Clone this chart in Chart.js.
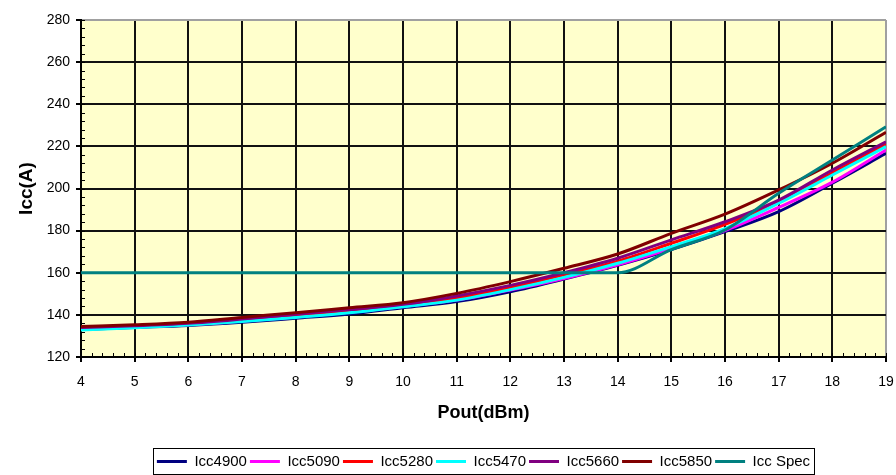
<!DOCTYPE html>
<html>
<head>
<meta charset="utf-8">
<script src="https://cdn.jsdelivr.net/npm/chart.js@4.4.1/dist/chart.umd.min.js"></script>
<style>
  html, body { margin: 0; padding: 0; background: #fff; }
  #wrap { width: 896px; height: 475px; }
</style>
</head>
<body>
<div id="wrap"><canvas id="chart" width="896" height="475"></canvas></div>
<script>
// values (Pout in dBm, Icc in A)
const poutDbm = [4, 5, 6, 7, 8, 9, 10, 11, 12, 13, 14, 15, 16, 17, 18, 19];

const icc4900 = [133.0, 134.0, 135.0, 136.5, 138.4, 140.4, 143.4, 146.3, 151.0, 157.0, 163.5, 171.0, 179.5, 189.0, 202.5, 216.7];
const icc5090 = [133.2, 134.2, 135.3, 137.0, 139.0, 141.2, 144.0, 147.0, 151.8, 157.3, 163.8, 171.5, 180.0, 191.0, 203.0, 218.3];
const icc5280 = [133.6, 134.6, 135.6, 137.6, 139.8, 142.0, 144.5, 148.0, 153.0, 159.0, 165.5, 174.0, 183.0, 193.8, 207.5, 221.0];
const icc5470 = [132.8, 133.9, 135.2, 136.8, 138.8, 141.0, 143.9, 147.0, 152.0, 157.8, 164.5, 172.4, 181.0, 193.0, 206.4, 219.9];
const icc5660 = [134.0, 134.8, 136.0, 138.0, 140.3, 142.5, 145.0, 149.0, 154.0, 160.0, 166.9, 175.6, 184.2, 194.5, 208.8, 222.2];
const icc5850 = [134.5, 135.3, 136.5, 138.8, 141.0, 143.4, 145.8, 150.2, 155.8, 162.1, 168.9, 178.7, 187.8, 199.3, 212.0, 226.7];
const iccSpec = [160, 160, 160, 160, 160, 160, 160, 160, 160, 160, 160, 171.0, 180.3, 197.7, 213.5, 229.3];

const seriesNames = ['Icc4900', 'Icc5090', 'Icc5280', 'Icc5470', 'Icc5660', 'Icc5850', 'Icc Spec'];
const seriesValues = [icc4900, icc5090, icc5280, icc5470, icc5660, icc5850, iccSpec];
const seriesColors = ['#000080', '#FF00FF', '#FF0000', '#00FFFF', '#800080', '#800000', '#008080'];

const yTicks = { min: 120, max: 280, step: 20 };
const xTicks = { min: 4, max: 19, step: 1 };

const FONT = "'Liberation Sans', Arial, sans-serif";

const datasets = seriesNames.map((name, i) => ({
    label: name,
    data: poutDbm.map((x, j) => ({ x: x, y: seriesValues[i][j] })),
    borderColor: seriesColors[i],
    backgroundColor: seriesColors[i],
    borderWidth: 3,
    pointRadius: 0,
    cubicInterpolationMode: 'monotone',
    order: seriesNames.length - i  // later series drawn on top, like the original
}));

// pale yellow plot area
const plotBackground = {
    id: 'plotBackground',
    beforeDraw(chart) {
        const { ctx, chartArea: a } = chart;
        ctx.save();
        ctx.fillStyle = '#FFFFCC';
        ctx.fillRect(a.left, a.top, a.right - a.left, a.bottom - a.top);
        ctx.restore();
    }
};

// small minor ticks along the two axes
const minorTicks = {
    id: 'minorTicks',
    beforeDatasetsDraw(chart) {
        const { ctx, chartArea: a, scales } = chart;
        ctx.save();
        ctx.strokeStyle = '#000';
        ctx.lineWidth = 1;
        ctx.beginPath();
        for (let v = yTicks.min; v <= yTicks.max; v += 4) {
            const y = Math.round(scales.y.getPixelForValue(v)) + 0.5;
            ctx.moveTo(a.left, y);
            ctx.lineTo(a.left + 4, y);
        }
        for (let k = 0; k <= (xTicks.max - xTicks.min) * 5; k++) {
            const x = Math.round(scales.x.getPixelForValue(xTicks.min + k * 0.2)) + 0.5;
            ctx.moveTo(x, a.bottom);
            ctx.lineTo(x, a.bottom - 4);
        }
        ctx.stroke();
        ctx.restore();
    }
};

// frame around the legend row
const legendFrame = {
    id: 'legendFrame',
    afterDraw(chart) {
        const boxes = chart.legend && chart.legend.legendHitBoxes;
        if (!boxes || !boxes.length) return;
        const left = Math.min(...boxes.map(b => b.left)) - 4;
        const right = Math.max(...boxes.map(b => b.left + b.width)) + 4;
        const top = Math.min(...boxes.map(b => b.top)) - 6;
        const bottom = Math.max(...boxes.map(b => b.top + b.height)) + 5;
        const { ctx } = chart;
        ctx.save();
        ctx.strokeStyle = '#000';
        ctx.lineWidth = 1;
        ctx.strokeRect(Math.round(left) + 0.5, Math.round(top) + 0.5, Math.round(right - left), Math.round(bottom - top));
        ctx.restore();
    }
};

new Chart(document.getElementById('chart'), {
    type: 'line',
    data: { datasets: datasets },
    plugins: [plotBackground, minorTicks, legendFrame],
    options: {
        responsive: false,
        animation: false,
        layout: { padding: { left: 0, right: 10, top: 20, bottom: -4 } },
        plugins: {
            tooltip: { enabled: false },
            legend: {
                position: 'bottom',
                fullSize: false,
                labels: {
                    usePointStyle: true,
                    pointStyle: 'line',
                    pointStyleWidth: 30,
                    boxHeight: 15,
                    padding: 3,
                    color: '#000',
                    font: { family: FONT, size: 15 },
                    sort: (a, b) => a.datasetIndex - b.datasetIndex
                }
            }
        },
        scales: {
            x: {
                type: 'linear',
                min: xTicks.min,
                max: xTicks.max,
                afterFit: (s) => { s.height = 94; s.paddingLeft = 0; s.paddingRight = 0; },
                ticks: {
                    stepSize: xTicks.step,
                    color: '#000',
                    padding: 12,
                    maxRotation: 0,
                    font: { family: FONT, size: 14 }
                },
                grid: {
                    color: (c) => (c.tick && c.tick.value === xTicks.max ? '#A0A0A0' : '#111'),
                    tickColor: '#000',
                    lineWidth: 2,
                    tickLength: 5
                },
                border: { color: '#000', width: 2 },
                title: {
                    display: true,
                    text: 'Pout(dBm)',
                    color: '#000',
                    font: { family: FONT, size: 18, weight: 'bold' },
                    padding: { top: 0, bottom: 27 }
                }
            },
            y: {
                min: yTicks.min,
                max: yTicks.max,
                afterFit: (s) => { s.width = 81; },
                ticks: {
                    stepSize: yTicks.step,
                    color: '#000',
                    padding: 6,
                    font: { family: FONT, size: 14 }
                },
                grid: {
                    color: (c) => (c.tick && c.tick.value === yTicks.max ? '#A0A0A0' : '#111'),
                    tickColor: '#000',
                    lineWidth: 2,
                    tickLength: 5
                },
                border: { color: '#000', width: 2 },
                title: {
                    display: true,
                    text: 'Icc(A)',
                    color: '#000',
                    font: { family: FONT, size: 19, weight: 'bold' },
                    padding: { top: 15, bottom: 0 }
                }
            }
        }
    }
});
</script>
</body>
</html>
